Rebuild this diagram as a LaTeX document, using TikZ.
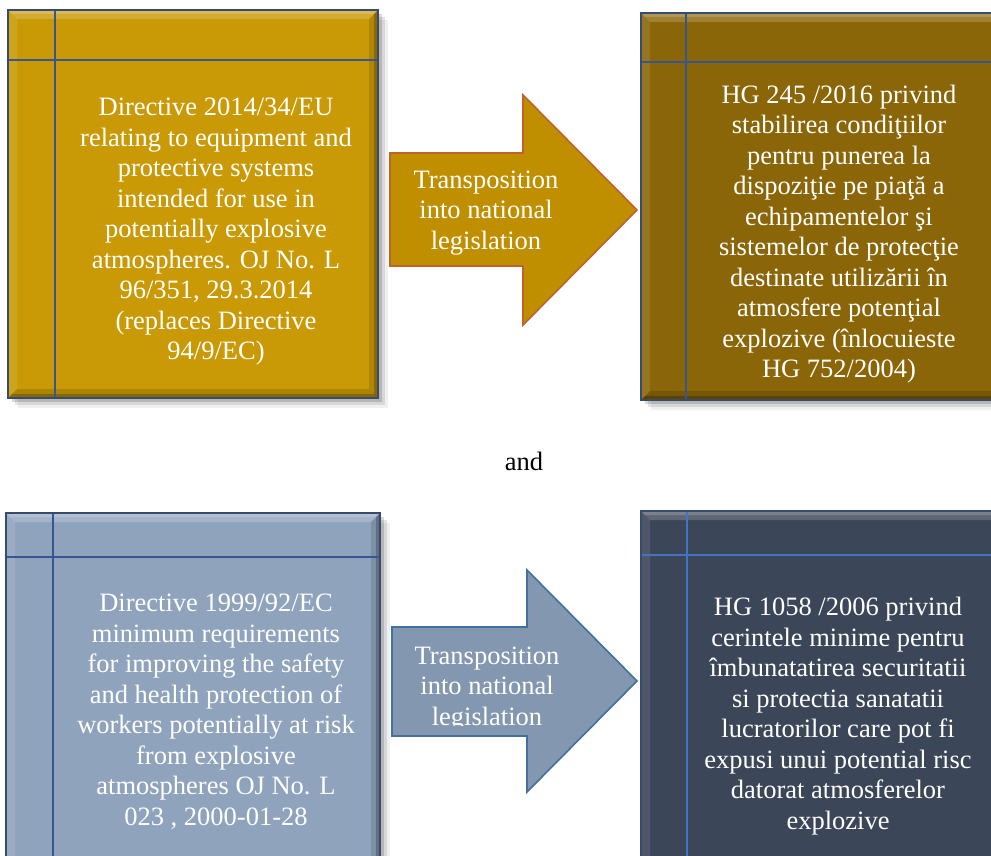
\documentclass[tikz,border=0pt]{standalone}
\usepackage{fontspec}
\setmainfont{Liberation Serif}
\usetikzlibrary{calc}
\definecolor{goldA}{RGB}{201,154,6}
\definecolor{goldB}{RGB}{138,102,8}
\definecolor{blueA}{RGB}{143,163,189}
\definecolor{navyB}{RGB}{59,70,88}
\definecolor{arrowGold}{RGB}{191,143,0}
\definecolor{arrowGoldLine}{RGB}{192,98,43}
\definecolor{arrowBlue}{RGB}{132,151,176}
\definecolor{arrowBlueLine}{RGB}{65,113,156}
\definecolor{gridA}{RGB}{52,86,145}
\definecolor{gridB}{RGB}{68,114,196}
\definecolor{edgeC}{RGB}{55,75,110}
\newcommand\bevbox[9]{%
  \coordinate (#1nw) at (#2,#3);
  \coordinate (#1se) at (#4,#5);
  \fill[black,opacity=.06] ($(#1nw)+(10,10)$) rectangle ($(#1se)+(10,10)$);
  \fill[black,opacity=.10] ($(#1nw)+(7,7)$) rectangle ($(#1se)+(7,7)$);
  \fill[black,opacity=.15] ($(#1nw)+(4,4)$) rectangle ($(#1se)+(4,4)$);
  \fill[#6] (#1nw) rectangle (#1se);
  \fill[white,opacity=.18] (#2,#3) -- (#4,#3) -- (#4-9,#3+9) -- (#2+9,#3+9) -- cycle;
  \fill[white,opacity=.18] (#2,#3) -- (#4,#3) -- (#4-4,#3+4) -- (#2+4,#3+4) -- cycle;
  \fill[white,opacity=.10] (#2,#3) -- (#2+9,#3+9) -- (#2+9,#5-9) -- (#2,#5) -- cycle;
  \fill[black,opacity=.12] (#4,#3) -- (#4,#5) -- (#4-9,#5-9) -- (#4-9,#3+9) -- cycle;
  \fill[black,opacity=.22] (#4,#3) -- (#4,#5) -- (#4-4,#5-4) -- (#4-4,#3+4) -- cycle;
  \fill[black,opacity=.14] (#2,#5) -- (#4,#5) -- (#4-9,#5-9) -- (#2+9,#5-9) -- cycle;
  \fill[black,opacity=.22] (#2,#5) -- (#4,#5) -- (#4-4,#5-4) -- (#2+4,#5-4) -- cycle;
  \draw[gridline,#9] (#7,#3) -- (#7,#5);
  \draw[gridline,#9] (#2,#8) -- (#4,#8);
  \draw[edgeC,line width=1.2pt] (#1nw) rectangle (#1se);
}
\begin{document}
\begin{tikzpicture}[x=1pt,y=-1pt,
  gridline/.style={line width=1.6pt},
  boxtext/.style={text=white,align=center,inner sep=0pt,
    font=\fontsize{26.5}{30.5}\selectfont},
  arrowshape/.style={line width=1.6pt,line join=miter},
  plaintext/.style={text=black,inner sep=0pt,font=\fontsize{26.5}{30.5}\selectfont}]
\useasboundingbox (0,0) rectangle (991,856);
\clip (0,0) rectangle (991,856);
\fill[white] (0,0) rectangle (991,856);

% top row
\bevbox{bA}{8}{10}{378}{398}{goldA}{55}{60}{gridA}
\bevbox{bB}{641}{13}{1004}{400}{goldB}{686}{62}{gridA}
\node[boxtext] (tA) at (216,232) {Directive 2014/34/EU\\relating to equipment and\\protective systems\\intended for use in\\potentially explosive\\atmospheres. OJ No. L\\96/351, 29.3.2014\\(replaces Directive\\94/9/EC)};
\node[boxtext] (tB) at (839,234) {HG 245 /2016 privind\\stabilirea condiţiilor\\pentru punerea la\\dispoziţie pe piaţă a\\echipamentelor şi\\sistemelor de protecţie\\destinate utilizării în\\atmosfere potenţial\\explozive (înlocuieste\\HG 752/2004)};

\coordinate (a1s1) at (390,153);
\coordinate (a1s2) at (523,153);
\coordinate (a1h1) at (523,95);
\coordinate (a1tip) at (637,210);
\coordinate (a1h2) at (523,325);
\coordinate (a1s3) at (523,266);
\coordinate (a1s4) at (390,266);
\draw[arrowshape,fill=arrowGold,draw=arrowGoldLine] (a1s1) -- (a1s2) -- (a1h1) -- (a1tip) -- (a1h2) -- (a1s3) -- (a1s4) -- cycle;
\node[boxtext] (ar1) at (486,213) {Transposition\\into national\\legislation};

\node[plaintext] (and) at (524,461) {and};

% bottom row
\bevbox{bC}{6}{513}{380}{880}{blueA}{53}{557}{gridA}
\bevbox{bD}{641}{511}{1004}{880}{navyB}{687}{555}{gridB}
\node[boxtext] (tC) at (216,712) {Directive 1999/92/EC\\minimum requirements\\for improving the safety\\and health protection of\\workers potentially at risk\\from explosive\\atmospheres OJ No. L\\023 , 2000-01-28};
\node[boxtext] (tD) at (838,716) {HG 1058 /2006 privind\\cerintele minime pentru\\îmbunatatirea securitatii\\si protectia sanatatii\\lucratorilor care pot fi\\expusi unui potential risc\\datorat atmosferelor\\explozive};

\coordinate (a2s1) at (392,627);
\coordinate (a2s2) at (527,627);
\coordinate (a2h1) at (527,570);
\coordinate (a2tip) at (637,681);
\coordinate (a2h2) at (527,792);
\coordinate (a2s3) at (527,736);
\coordinate (a2s4) at (392,736);
\draw[arrowshape,fill=arrowBlue,draw=arrowBlueLine] (a2s1) -- (a2s2) -- (a2h1) -- (a2tip) -- (a2h2) -- (a2s3) -- (a2s4) -- cycle;
\begin{scope}
\clip (392,620) rectangle (640,725);
\node[boxtext] (ar2) at (487,689) {Transposition\\into national\\legislation};
\end{scope}
\end{tikzpicture}
\end{document}
